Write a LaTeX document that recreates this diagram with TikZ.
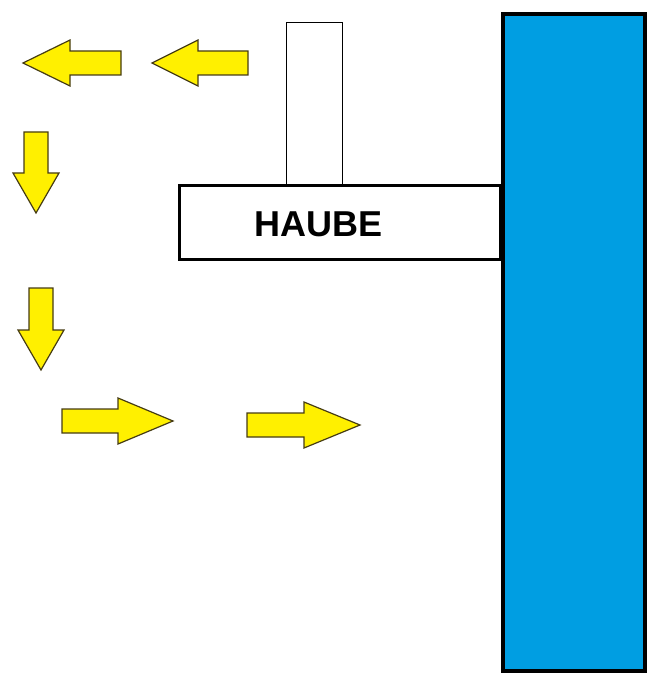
\documentclass[tikz,border=0pt]{standalone}
\usepackage{fontspec}
\setmainfont{Liberation Sans}
\usepackage{tikz}
\usetikzlibrary{calc}

\definecolor{wandblau}{RGB}{0,158,226}
\definecolor{luftgelb}{RGB}{255,240,0}
\definecolor{gelbrand}{RGB}{70,60,20}

\tikzset{
  pfeil/.style={fill=luftgelb, draw=gelbrand, line width=1.2pt, line join=miter},
  haubebox/.style={draw=black, line width=3pt, fill=white, minimum width=321, minimum height=73, inner sep=0},
}

\begin{document}
\begin{tikzpicture} [x=1pt, y=-1pt]
\useasboundingbox (0,0) rectangle (653,676);

% wall
\node[draw=black, line width=4pt, fill=wandblau, minimum width=142, minimum height=657, inner sep=0] (wand) at (574,342.5) {};

% hood and duct
\node[draw=black, line width=1pt, minimum width=56, minimum height=164, inner sep=0] (rohr) at (314,105) {};
\node[haubebox] (haube) at (339.5,222.5) {};
\node[font=\fontsize{36}{40}\selectfont\bfseries] (haubetext) at (318.5,224.5) {HAUBE};

% air flow
\foreach \x/\y/\a/\s/\l in {121/63/180/51/98, 248/63/180/50/96, 36/132/-90/41/81, 41/288/-90/42/82, 62/421/0/56/111, 247/425/0/57/113}
 \draw[pfeil, shift={(\x,\y)}, rotate=\a] (0,-12)--(\s,-12)--(\s,-23)--(\l,0)--(\s,23)--(\s,12)--(0,12)--cycle;

\end{tikzpicture}
\end{document}
